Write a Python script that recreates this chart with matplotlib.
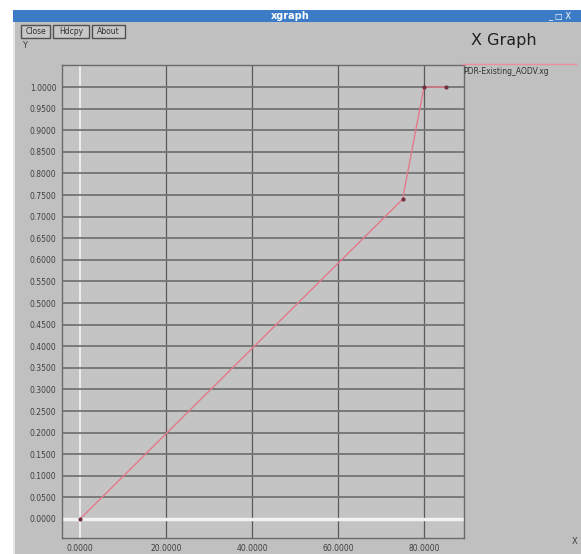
import numpy as np
import matplotlib.pyplot as plt
from matplotlib.patches import Rectangle, FancyBboxPatch

# data
x_vals = [0, 75, 80, 85]
y_vals = [0.0, 0.74, 1.0, 1.0]
x_ticks = [0, 20, 40, 60, 80]
y_ticks = [round(0.05 * i, 2) for i in range(21)]
series_name = 'PDR-Existing_AODV.xg'

W, H = 581, 554
bg = '#c0c0c0'

fig = plt.figure(figsize=(W / 100, H / 100), dpi=100)
fig.patch.set_facecolor('white')

# window chrome
fig.patches.append(Rectangle((13 / W, 0), 1, (H - 22) / H, transform=fig.transFigure,
                             facecolor=bg, edgecolor='none', zorder=-5))
fig.patches.append(Rectangle((13 / W, (H - 22) / H), 1, 12 / H, transform=fig.transFigure,
                             facecolor='#3c7cc6', edgecolor='none', zorder=-5))
fig.patches.append(Rectangle((13 / W, 0), 2 / W, (H - 22) / H, transform=fig.transFigure,
                             facecolor='#e8e8e8', edgecolor='none', zorder=-4))
fig.text(290 / W, 1 - 16 / H, 'xgraph', color='white', fontsize=7, fontweight='bold',
         ha='center', va='center')
fig.text(560 / W, 1 - 16 / H, '_ □ X', color='white', fontsize=6, ha='center', va='center')

for lbl, x0, x1 in [('Close', 21, 50), ('Hdcpy', 53, 89), ('About', 92, 125)]:
    fig.patches.append(FancyBboxPatch((x0 / W, 1 - 38 / H), (x1 - x0) / W, 13 / H,
                                      boxstyle='square,pad=0', transform=fig.transFigure,
                                      facecolor='#c8c8c8', edgecolor='#505050', lw=1, zorder=2))
    fig.text((x0 + x1) / 2 / W, 1 - 31.5 / H, lbl, fontsize=5.5, color='#303030',
             ha='center', va='center')

fig.text(22 / W, 1 - 46 / H, 'Y', fontsize=6, color='#404040', ha='left', va='center')
fig.text(504 / W, 1 - 40 / H, 'X Graph', fontsize=11.5, color='#202020', ha='center', va='center')
fig.text(575 / W, 1 - 541 / H, 'X', fontsize=6, color='#404040', ha='center', va='center')

# plot area
ax = fig.add_axes([62 / W, 16 / H, (464 - 62) / W, (538 - 65) / H])
ax.set_facecolor('#c4c4c4')
ax.set_xlim(-4.2, 89.3)
ax.set_ylim(-0.044, 1.051)

for xt in x_ticks:
    ax.axvline(xt, color='#f2f2f2' if xt == 0 else '#5a5a5a', lw=1.3 if xt == 0 else 0.9, zorder=1)
for yt in y_ticks:
    ax.axhline(yt, color='#f2f2f2' if yt == 0 else '#747474', lw=2.5 if yt == 0 else 1.3, zorder=1)

ax.plot(x_vals, y_vals, color='#e37a88', lw=1.0, marker='o', markersize=2.0,
        markerfacecolor='#703040', markeredgecolor='#703040', zorder=3)

ax.set_xticks(x_ticks)
ax.set_xticklabels([f'{v:.4f}' for v in x_ticks])
ax.set_yticks(y_ticks)
ax.set_yticklabels([f'{v:.4f}' for v in y_ticks])
ax.tick_params(length=0, labelsize=5.5, labelcolor='#404040', pad=4)
for s in ax.spines.values():
    s.set_color('#6a6a6a')
    s.set_linewidth(1.0)

# legend entry
fig.lines.append(plt.Line2D([462 / W, 576 / W], [1 - 64 / H, 1 - 64 / H], transform=fig.transFigure,
                            color='#e890a0', lw=1.0))
fig.text(463 / W, 1 - 71 / H, series_name, fontsize=5.5, color='#303030', ha='left', va='center')

fig.savefig('out.png', dpi=100, facecolor=fig.get_facecolor())
